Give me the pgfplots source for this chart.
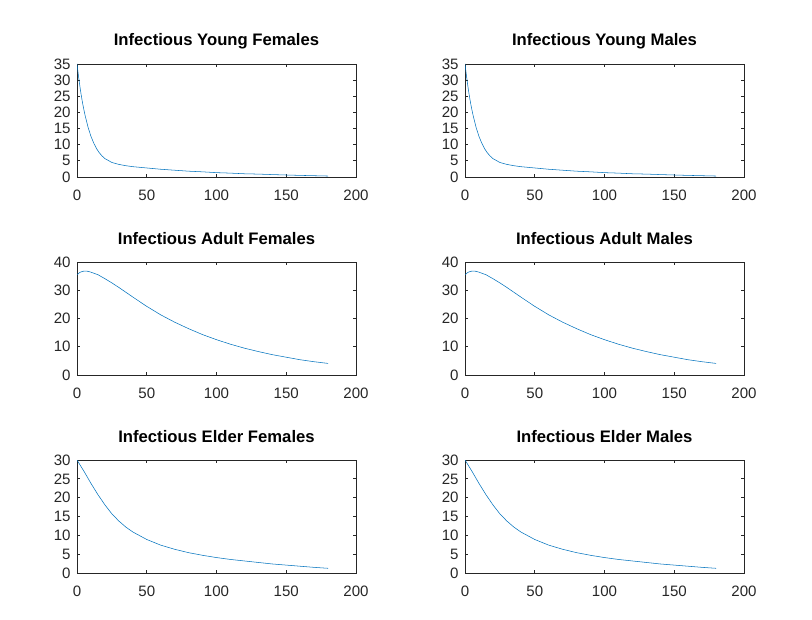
\documentclass[border=0pt]{standalone}
\usepackage{fontspec}
\setmainfont{Liberation Sans}
\usepackage{pgfplots}
\usepackage{pgfplotstable}
\pgfplotsset{compat=1.18}
\definecolor{mblue}{rgb}{0,0.447,0.741}
\definecolor{maxis}{rgb}{0.15,0.15,0.15}

% infectious young
\pgfplotstableread{
t v
0 35
1 31.5
2 28.3
3 25.4
4 22.9
5 20.7
6 18.7
8 15.3
10 12.6
12 10.5
14 8.8
16 7.5
18 6.5
20 5.7
25 4.5
30 3.9
35 3.5
40 3.2
50 2.8
60 2.4
70 2.1
80 1.8
90 1.6
100 1.35
110 1.2
120 1.0
130 0.9
140 0.75
150 0.62
160 0.5
170 0.4
180 0.3
}\young

% infectious adult
\pgfplotstableread{
t v
0 35.5
2 36.3
4 36.7
6 36.8
8 36.7
10 36.4
15 35.5
20 34.1
25 32.6
30 31.0
40 27.6
50 24.3
60 21.3
70 18.7
80 16.4
90 14.3
100 12.5
110 10.9
120 9.5
130 8.3
140 7.2
150 6.3
160 5.4
170 4.7
180 4.1
}\adult

% infectious elder
\pgfplotstableread{
t v
0 30
5 27.0
10 23.8
15 20.8
20 18.1
25 15.7
30 13.8
35 12.2
40 10.9
50 8.9
60 7.4
70 6.3
80 5.4
90 4.7
100 4.1
110 3.6
120 3.2
130 2.8
140 2.4
150 2.1
160 1.8
170 1.5
180 1.25
}\elder

\pgfplotsset{
  msub/.style={
    scale only axis,
    width=209.25pt, height=84.75pt,
    anchor=south west,
    xmin=0, xmax=200,
    xtick={0,50,...,200},
    tick align=inside,
    major tick length=2.5pt,
    axis line style={maxis, line width=0.6pt},
    tick style={maxis, line width=0.6pt},
    ticklabel style={font=\fontsize{11.3}{13}\selectfont, text=maxis},
    xticklabel style={yshift=-6.2pt},
    yticklabel style={xshift=-1.3pt},
    /pgf/number format/assume math mode=true,
    title style={font=\bfseries\fontsize{12.5}{14}\selectfont,
      at={(0.5,1)}, anchor=base, yshift=7.5pt, inner sep=0pt},
    cycle list={{mblue, line width=0.8pt, mark=none}},
  },
  young/.style={msub, ymin=0, ymax=35, ytick={0,5,...,35}},
  adult/.style={msub, ymin=0, ymax=40, ytick={0,10,...,40}},
  elder/.style={msub, ymin=0, ymax=30, ytick={0,5,...,30}},
}

\begin{document}
\begin{tikzpicture}
\path (0pt,0pt) rectangle (609pt,464.25pt);

\begin{axis}[young, at={(57.75pt,331.5pt)}, title={Infectious Young Females}]
\addplot table[x=t, y=v] {\young};
\end{axis}
\begin{axis}[young, at={(348.75pt,331.5pt)}, title={Infectious Young Males}]
\addplot table[x=t, y=v] {\young};
\end{axis}

\begin{axis}[adult, at={(57.75pt,183pt)}, title={Infectious Adult Females}]
\addplot table[x=t, y=v] {\adult};
\end{axis}
\begin{axis}[adult, at={(348.75pt,183pt)}, title={Infectious Adult Males}]
\addplot table[x=t, y=v] {\adult};
\end{axis}

\begin{axis}[elder, at={(57.75pt,34.5pt)}, title={Infectious Elder Females}]
\addplot table[x=t, y=v] {\elder};
\end{axis}
\begin{axis}[elder, at={(348.75pt,34.5pt)}, title={Infectious Elder Males}]
\addplot table[x=t, y=v] {\elder};
\end{axis}
\end{tikzpicture}
\end{document}
